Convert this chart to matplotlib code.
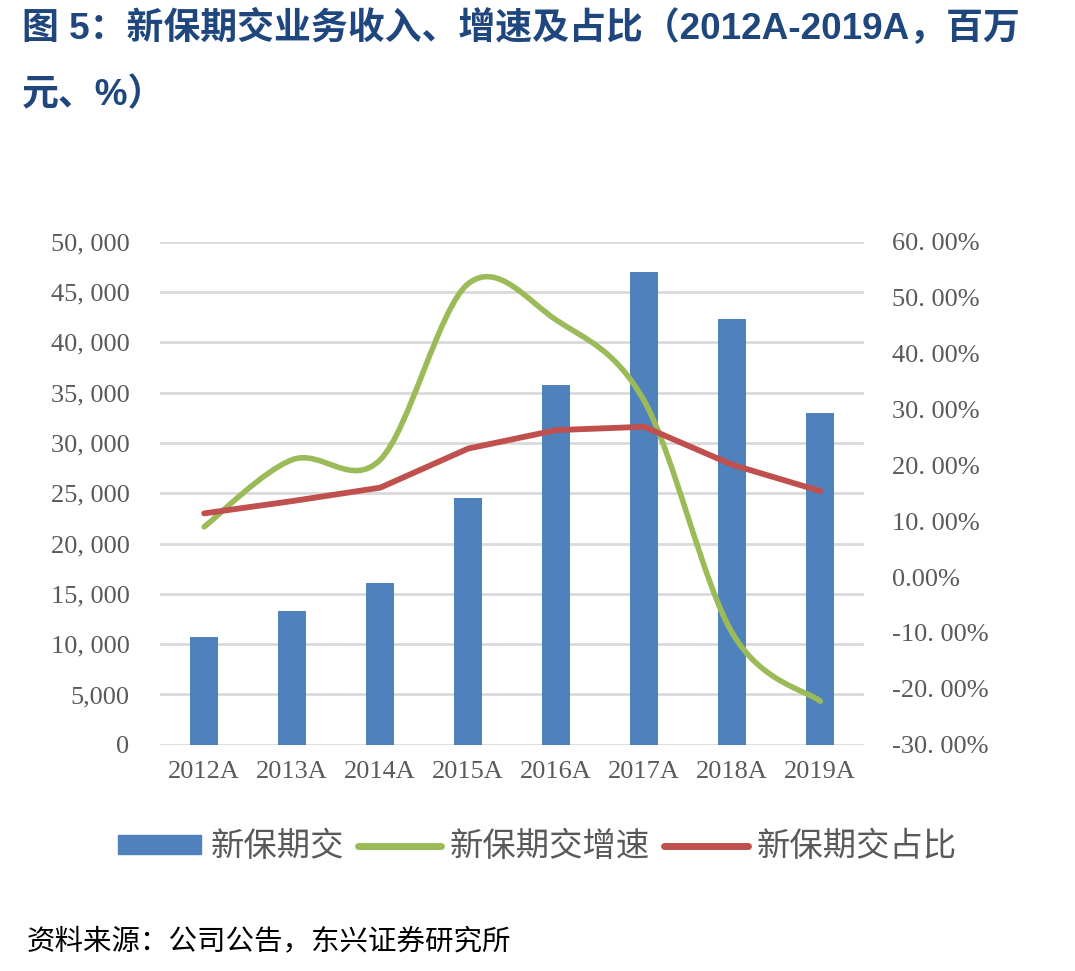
import numpy as np
import matplotlib.pyplot as plt
from matplotlib.path import Path
from matplotlib.patches import PathPatch
from matplotlib.lines import Line2D
from matplotlib.patches import Patch

# data
years = ['2012A', '2013A', '2014A', '2015A', '2016A', '2017A', '2018A', '2019A']
new_premium = [10700, 13250, 16050, 24500, 35750, 47000, 42300, 32950]
growth = [0.09, 0.21, 0.21, 0.525, 0.46, 0.315, -0.10, -0.222]
share = [0.114, 0.136, 0.16, 0.23, 0.263, 0.269, 0.201, 0.154]

left_ticks = [0, 5000, 10000, 15000, 20000, 25000, 30000, 35000, 40000, 45000, 50000]
left_labels = ['0', '5,000', '10, 000', '15, 000', '20, 000', '25, 000',
               '30, 000', '35, 000', '40, 000', '45, 000', '50, 000']
right_ticks = [-0.3, -0.2, -0.1, 0.0, 0.1, 0.2, 0.3, 0.4, 0.5, 0.6]
right_labels = ['-30. 00%', '-20. 00%', '-10. 00%', '0.00%', '10. 00%',
                '20. 00%', '30. 00%', '40. 00%', '50. 00%', '60. 00%']

BLUE = '#4F81BD'
GREEN = '#9BBB59'
RED = '#C0504D'
GRAY = '#595959'
CJK = ['Noto Sans CJK SC', 'DejaVu Sans']
SERIF = ['Liberation Serif', 'Noto Sans CJK SC']


def smooth_path(xs, ys):
    # Excel-like smoothed line: Catmull-Rom segments as cubic Beziers
    pts = np.column_stack([xs, ys]).astype(float)
    n = len(pts)
    verts = [pts[0]]
    codes = [Path.MOVETO]
    for i in range(n - 1):
        p0 = pts[max(i - 1, 0)]
        p1 = pts[i]
        p2 = pts[i + 1]
        p3 = pts[min(i + 2, n - 1)]
        c1 = p1 + (p2 - p0) / 6.0
        c2 = p2 - (p3 - p1) / 6.0
        verts += [c1, c2, p2]
        codes += [Path.CURVE4] * 3
    return Path(verts, codes)


fig = plt.figure(figsize=(10.75, 9.71), dpi=100)
ax = fig.add_axes([0.149, 0.233, 0.655, 0.518])
ax2 = ax.twinx()

x = np.arange(len(years))
ax.bar(x, new_premium, width=0.32, color=BLUE, zorder=2)
ax.set_xlim(-0.5, len(years) - 0.5)
ax.set_ylim(0, 50000)
ax.set_yticks(left_ticks)
ax.set_yticklabels(left_labels, family=SERIF, fontsize=19, color=GRAY)
ax.set_xticks(x)
ax.set_xticklabels(years, family=SERIF, fontsize=19, color=GRAY)
ax.tick_params(axis='y', length=0, pad=22)
ax.tick_params(axis='x', length=0, pad=12)
ax.grid(axis='y', color='#D9D9D9', linewidth=2, zorder=0)
ax.set_axisbelow(True)

ax2.set_ylim(-0.3, 0.6)
ax2.set_yticks(right_ticks)
ax2.set_yticklabels(right_labels, family=SERIF, fontsize=19, color=GRAY)
ax2.tick_params(axis='y', length=0, pad=20)

patch = PathPatch(smooth_path(x, growth), fill=False, edgecolor=GREEN,
                  linewidth=4, capstyle='round', zorder=3)
ax2.add_patch(patch)
ax2.plot(x, share, color=RED, linewidth=4.2, solid_capstyle='round', zorder=4)

for a in (ax, ax2):
    for s in a.spines.values():
        s.set_visible(False)

handles = [Patch(color=BLUE),
           Line2D([0], [0], color=GREEN, linewidth=5, solid_capstyle='round'),
           Line2D([0], [0], color=RED, linewidth=5, solid_capstyle='round')]
fig.legend(handles, ['新保期交', '新保期交增速', '新保期交占比'],
           loc='center', bbox_to_anchor=(0.5, 0.128), ncol=3, frameon=False,
           prop={'family': CJK, 'size': 24}, labelcolor=GRAY,
           handlelength=2.5, handleheight=0.5, handletextpad=0.27, columnspacing=0.42)

title_font = ['Liberation Sans', 'Noto Sans CJK SC']
fig.text(0.02, 0.971, '图 5：新保期交业务收入、增速及占比（2012A-2019A，百万',
         family=title_font, fontweight='bold',
         fontsize=26.6, color='#1F477D', va='center', ha='left')
fig.text(0.02, 0.902, '元、%）',
         family=title_font, fontweight='bold',
         fontsize=26.6, color='#1F477D', va='center', ha='left')
fig.text(0.025, 0.031, '资料来源：公司公告，东兴证券研究所', family=CJK,
         fontsize=20.5, color='black', va='center', ha='left', style='italic')

fig.savefig('out.png', dpi=100)
